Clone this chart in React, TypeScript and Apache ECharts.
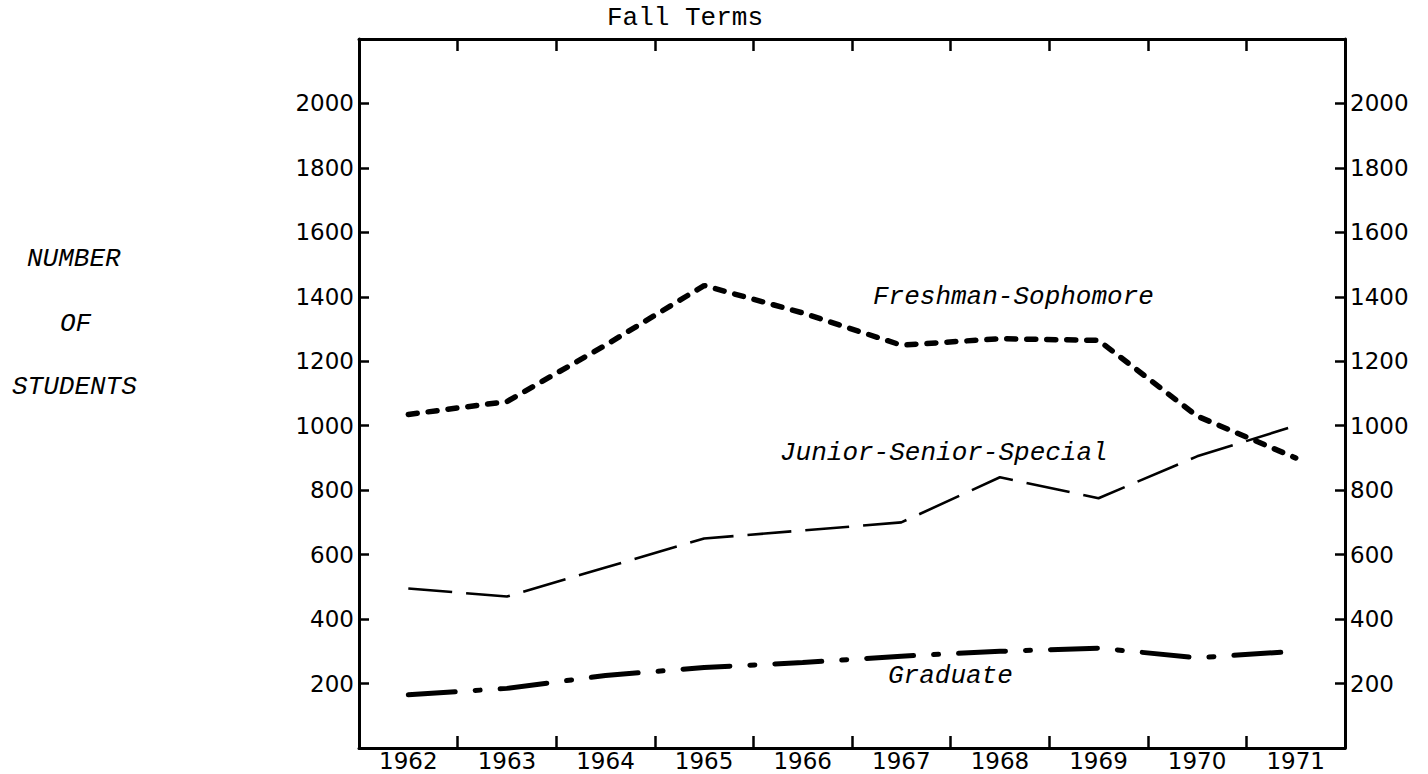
import React, { useEffect, useRef } from "react";
import * as echarts from "echarts";

const YEARS = ["1962", "1963", "1964", "1965", "1966", "1967", "1968", "1969", "1970", "1971"];
const FRESHMAN_SOPHOMORE = [1035, 1075, 1250, 1435, 1350, 1250, 1270, 1265, 1030, 900];
const JUNIOR_SENIOR_SPECIAL = [495, 470, 560, 650, 675, 700, 840, 775, 905, 1000];
const GRADUATE = [165, 185, 225, 250, 265, 285, 300, 310, 280, 300];
const Y_MIN = 0;
const Y_MAX = 2200;
const Y_STEP = 200;

const TYPE_FONT = "'Liberation Mono', 'Courier New', monospace";
const NUM_FONT = "'DejaVu Sans', sans-serif";

export default function App() {
  const ref = useRef<HTMLDivElement>(null);

  useEffect(() => {
    if (!ref.current) return;
    const chart = echarts.init(ref.current, null, { renderer: "svg" });

    const yLabel = (v: number) => (v === Y_MIN || v === Y_MAX ? "" : String(v));
    const axisLine = { show: true, onZero: false, lineStyle: { color: "#000", width: 3 } };

    const yAxisBase = {
      type: "value" as const,
      min: Y_MIN,
      max: Y_MAX,
      interval: Y_STEP,
      axisLine,
      splitLine: { show: false },
      axisTick: { show: true, inside: true, length: 10, lineStyle: { color: "#000", width: 2.5 } },
      axisLabel: {
        show: true,
        color: "#000",
        fontFamily: NUM_FONT,
        fontSize: 23,
        margin: 5,
        formatter: yLabel,
      },
    };

    const xAxisBase = {
      type: "category" as const,
      data: YEARS,
      boundaryGap: true,
      axisLine,
      splitLine: { show: false },
      axisTick: { show: true, inside: true, length: 12, lineStyle: { color: "#000", width: 2.5 } },
    };

    chart.setOption({
      animation: false,
      backgroundColor: "#fff",
      grid: { left: 359, right: 83, top: 39, bottom: 26, containLabel: false },
      xAxis: [
        {
          ...xAxisBase,
          position: "bottom",
          axisLabel: {
            show: true,
            color: "#000",
            fontFamily: NUM_FONT,
            fontSize: 23,
            lineHeight: 20,
            margin: 3,
            interval: 0,
          },
        },
        {
          ...xAxisBase,
          position: "top",
          axisLabel: { show: false },
        },
      ],
      yAxis: [
        { ...yAxisBase, position: "left" },
        { ...yAxisBase, position: "right" },
      ],
      series: [
        {
          name: "Freshman-Sophomore",
          type: "line",
          data: FRESHMAN_SOPHOMORE,
          symbol: "none",
          lineStyle: { color: "#000", width: 5.5, type: [9, 11], cap: "round" },
        },
        {
          name: "Junior-Senior-Special",
          type: "line",
          data: JUNIOR_SENIOR_SPECIAL,
          symbol: "none",
          lineStyle: { color: "#000", width: 2.6, type: [44, 14], cap: "butt" },
        },
        {
          name: "Graduate",
          type: "line",
          data: GRADUATE,
          symbol: "none",
          lineStyle: { color: "#000", width: 5, type: [47, 20, 5, 20], cap: "round" },
        },
      ],
      graphic: [
        { type: "text", left: 607, top: 5, style: { text: "Fall Terms", font: `26px ${TYPE_FONT}`, fill: "#000" } },
        { type: "text", left: 873, top: 284, style: { text: "Freshman-Sophomore", font: `italic 26px ${TYPE_FONT}`, fill: "#000" } },
        { type: "text", left: 780, top: 440, style: { text: "Junior-Senior-Special", font: `italic 26px ${TYPE_FONT}`, fill: "#000" } },
        { type: "text", left: 888, top: 663, style: { text: "Graduate", font: `italic 26px ${TYPE_FONT}`, fill: "#000" } },
        { type: "text", left: 27, top: 246, style: { text: "NUMBER", font: `italic 26px ${TYPE_FONT}`, fill: "#000" } },
        { type: "text", left: 60, top: 311, style: { text: "OF", font: `italic 26px ${TYPE_FONT}`, fill: "#000" } },
        { type: "text", left: 12, top: 374, style: { text: "STUDENTS", font: `italic 26px ${TYPE_FONT}`, fill: "#000" } },
      ],
    });

    return () => chart.dispose();
  }, []);

  return (
    <div
      ref={ref}
      style={{ position: "fixed", left: 0, top: 0, width: 1428, height: 774, background: "#fff" }}
    />
  );
}
